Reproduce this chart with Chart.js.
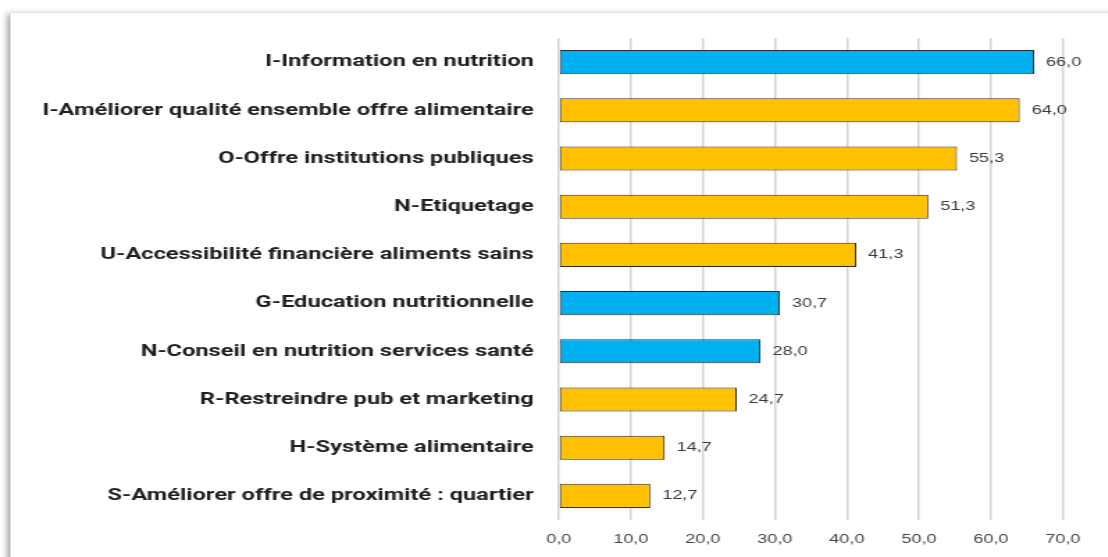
<!DOCTYPE html>
<html>
<head>
<meta charset="utf-8">
<script src="https://cdn.jsdelivr.net/npm/chart.js@4"></script>
<style>
  html, body { margin: 0; padding: 0; background: #fff; overflow: hidden; }
  #frame {
    position: absolute; left: 10px; top: 12px; width: 1110px; height: 560px;
    border: 1px solid #e2e2e2; box-shadow: -3px 2px 6px rgba(0,0,0,0.35); background: #fff;
  }
  /* the reference picture is stretched horizontally, so the chart is drawn narrow and widened */
  #wrap {
    position: absolute; left: 0; top: 0; width: 797px; height: 557px;
    transform: scaleX(1.39); transform-origin: 0 0;
  }
</style>
</head>
<body>
<div id="frame"></div>
<div id="wrap"><canvas id="chart" width="797" height="557"></canvas></div>
<script>
// Data
const categories = [
    'I-Information en nutrition',
    'I-Améliorer qualité ensemble offre alimentaire',
    'O-Offre institutions publiques',
    'N-Etiquetage',
    'U-Accessibilité financière aliments sains',
    'G-Education nutritionnelle',
    'N-Conseil en nutrition services santé',
    'R-Restreindre pub et marketing',
    'H-Système alimentaire',
    'S-Améliorer offre de proximité : quartier'
];
const values = [66.0, 64.0, 55.3, 51.3, 41.3, 30.7, 28.0, 24.7, 14.7, 12.7];
const groups = ['blue', 'yellow', 'yellow', 'yellow', 'yellow', 'blue', 'blue', 'yellow', 'yellow', 'yellow'];
const xTicks = [0, 10, 20, 30, 40, 50, 60, 70];

const palette = { blue: '#00B0F0', yellow: '#FFC000' };

function fmt(v) {
    return v.toFixed(1).replace('.', ',');
}

// draw value labels at the end of each bar
const valueLabels = {
    id: 'valueLabels',
    afterDatasetsDraw(chart) {
        const ctx = chart.ctx;
        const meta = chart.getDatasetMeta(0);
        ctx.save();
        ctx.font = '13px "Liberation Sans", Arial, sans-serif';
        ctx.fillStyle = '#3a3a3a';
        ctx.textAlign = 'left';
        ctx.textBaseline = 'middle';
        meta.data.forEach((bar, i) => {
            ctx.fillText(fmt(values[i]), bar.x + 8.6, bar.y);
        });
        ctx.restore();
    }
};

document.addEventListener('DOMContentLoaded', function() {
    const ctx = document.getElementById('chart').getContext('2d');
    new Chart(ctx, {
        type: 'bar',
        data: {
            labels: categories,
            datasets: [{
                data: values,
                backgroundColor: groups.map(g => palette[g]),
                borderColor: '#2b2b2b',
                borderWidth: 1,
                borderSkipped: false,
                barPercentage: 0.5,
                categoryPercentage: 1.0
            }]
        },
        options: {
            indexAxis: 'y',
            responsive: false,
            animation: false,
            layout: { padding: { top: 38, right: 32.3, left: 0, bottom: 0 } },
            plugins: { legend: { display: false }, tooltip: { enabled: false } },
            scales: {
                x: {
                    min: 0, max: 70,
                    afterBuildTicks: scale => { scale.ticks = xTicks.map(v => ({ value: v })); },
                    grid: { color: '#d4d4d4', lineWidth: 1.5, drawTicks: false },
                    border: { display: false },
                    ticks: {
                        padding: 12,
                        color: '#454545',
                        font: { family: '"Liberation Sans", Arial, sans-serif', size: 13 },
                        callback: v => fmt(v)
                    },
                    afterFit: scale => { scale.height = 37; }
                },
                y: {
                    grid: { display: false, drawTicks: false },
                    border: { display: false },
                    ticks: {
                        padding: 18,
                        color: '#1f1f1f',
                        font: { family: 'Roboto, sans-serif', size: 17, weight: 'bold' }
                    },
                    afterFit: scale => { scale.width = 402; }
                }
            }
        },
        plugins: [valueLabels]
    });
});
</script>
</body>
</html>
